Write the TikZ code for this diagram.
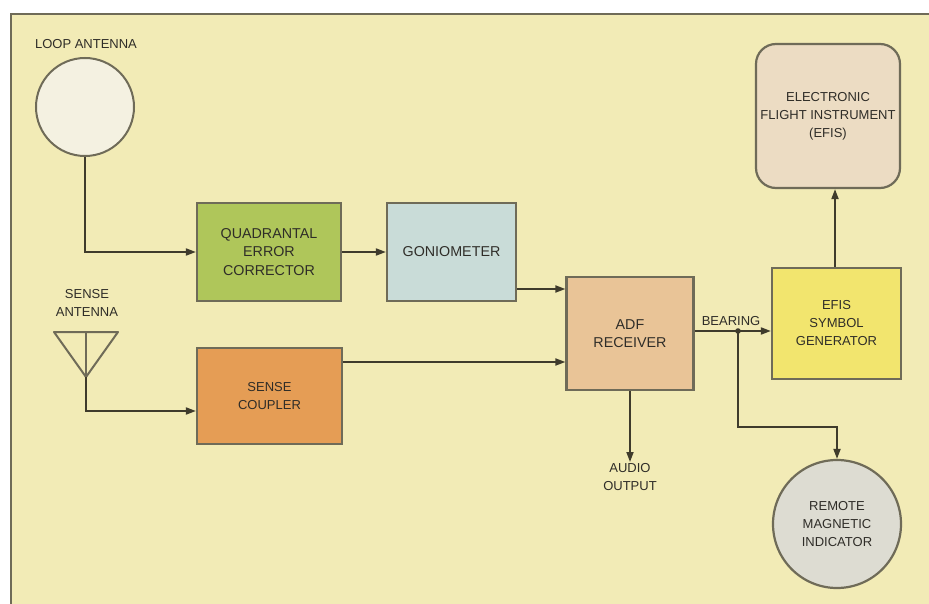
\documentclass[tikz,border=0pt]{standalone}
\usepackage{fontspec}
\setmainfont{Liberation Sans}
\usetikzlibrary{arrows.meta,calc}
\definecolor{bg}{HTML}{F2EBB6}
\definecolor{qecc}{HTML}{AFC65A}
\definecolor{gonc}{HTML}{C9DCD8}
\definecolor{scc}{HTML}{E59D55}
\definecolor{adfc}{HTML}{E9C497}
\definecolor{efisc}{HTML}{ECDCC3}
\definecolor{symc}{HTML}{F2E56E}
\definecolor{rmic}{HTML}{DDDCD2}
\definecolor{loopc}{HTML}{F4F1E1}
\definecolor{edge}{HTML}{6F6B58}
\definecolor{wire}{HTML}{3F3B2C}
\definecolor{txt}{HTML}{2F2D28}
\begin{document}
\begin{tikzpicture}[x=1pt,y=-1pt,
  every node/.style={text=txt, font=\fontsize{13}{18}\selectfont, align=center},
  blk/.style={draw=edge, line width=2.2pt, rectangle, inner sep=0pt},
  big/.style={font=\fontsize{14.3}{18.5}\selectfont},
  lbl/.style={inner sep=1pt},
  arr/.style={draw=wire, line width=1.8pt, -{Triangle[length=10pt,width=7pt]}},
  wireline/.style={draw=wire, line width=1.8pt}
]
\useasboundingbox (0,0) rectangle (929,604);
\fill[white] (0,0) rectangle (929,604);
\fill[bg] (11,14) rectangle (929,604);
\draw[edge, line width=2pt] (11,604) -- (11,14) -- (929,14);

% loop antenna
\node[lbl] (looplbl) at (86,44) {LOOP ANTENNA};
\node[circle, draw=edge, line width=2pt, fill=loopc, minimum size=98pt, inner sep=0pt] (loop) at (85,107) {};

% sense antenna
\node[lbl] (senselbl) at (87,303) {SENSE\\ANTENNA};
\coordinate (ta) at (54,332);
\coordinate (tb) at (118,332);
\coordinate (apex) at (86,377);
\coordinate (tt) at (86,332);
\draw[edge, line width=2pt, line join=round] (ta) -- (tb) -- (apex) -- cycle;
\draw[edge, line width=2pt] (tt) -- (apex);

% blocks
\node[blk, fill=qecc, big, minimum width=144pt, minimum height=98pt] (qec) at (269,252) {QUADRANTAL\\ERROR\\CORRECTOR};
\node[blk, fill=gonc, big, minimum width=129pt, minimum height=98pt] (gon) at (451.5,252) {GONIOMETER};
\node[blk, fill=scc, minimum width=145pt, minimum height=96pt] (sc) at (269.5,396) {SENSE\\COUPLER};
\node[blk, fill=adfc, big, minimum width=127pt, minimum height=113pt] (adf) at (630,333.5) {ADF\\RECEIVER};
\node[blk, fill=efisc, rounded corners=20pt, minimum width=144pt, minimum height=144pt] (efis) at (828,116) {ELECTRONIC\\FLIGHT INSTRUMENT\\(EFIS)};
\node[blk, fill=symc, minimum width=129pt, minimum height=111pt] (sym) at (836.5,323.5) {EFIS\\SYMBOL\\GENERATOR};
\node[circle, draw=edge, line width=2.2pt, fill=rmic, minimum size=128pt, inner sep=0pt] (rmi) at (837,524) {REMOTE\\MAGNETIC\\INDICATOR};

\node[lbl, anchor=north] (audio) at (630,462) {AUDIO\\OUTPUT};
\node[lbl] (bearlbl) at (731,321) {BEARING};

% connectors
\draw[arr] (loop.south) |- (qec.west);
\draw[arr] (apex) |- ([yshift=-15pt]sc.west);
\draw[arr] (qec.east) -- (qec.east -| gon.west);
\draw[arr] ([yshift=-37pt]gon.east) -- ([yshift=-37pt]gon.east -| adf.west);
\draw[arr] ([yshift=34pt]sc.east) -- ([yshift=34pt]sc.east -| adf.west);
\draw[arr] (adf.south) -- (adf.south |- audio.north);
\coordinate (j) at (738,331);
\coordinate (k) at (837,427);
\draw[arr] (adf.east |- j) -- (j -| sym.west);
\draw[arr] (j) |- (k) -- (rmi.north);
\fill[wire] (j) circle (2.8pt);
\draw[arr] ([xshift=-1.5pt]sym.north) -- ([xshift=-1.5pt]sym.north |- efis.south);
\end{tikzpicture}
\end{document}
